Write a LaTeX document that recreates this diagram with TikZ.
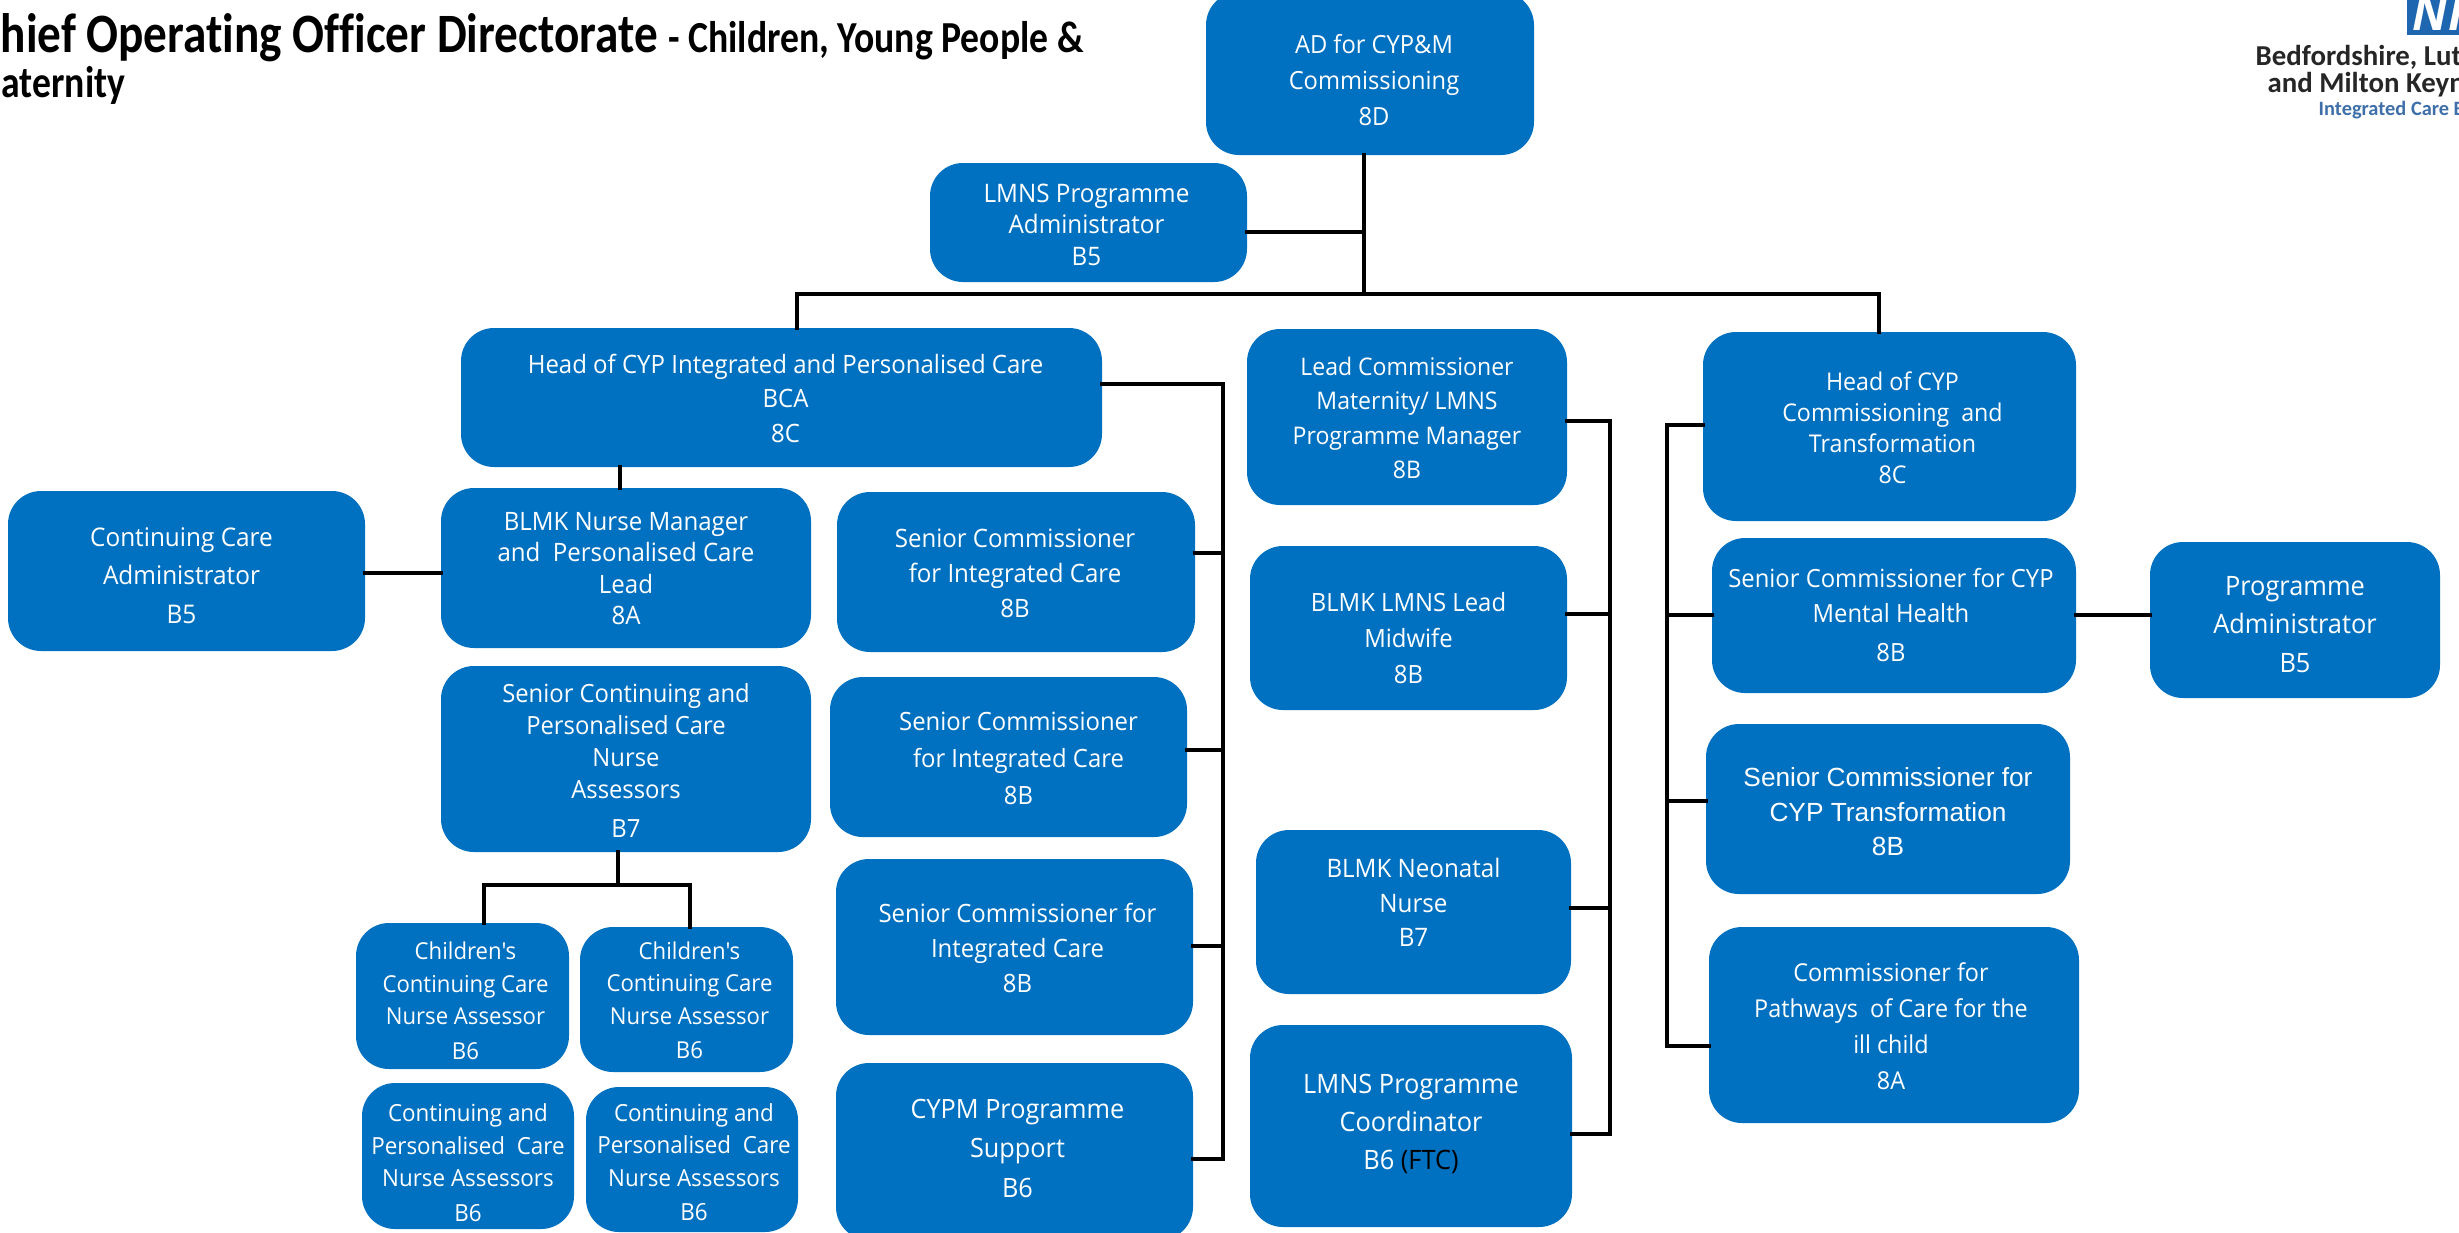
\documentclass[tikz,border=0pt]{standalone}
\usepackage{fontspec}
\defaultfontfeatures[\rmfamily]{}
\setmainfont[FakeStretch=0.95]{Open Sans}
\newfontfamily\carl[Ligatures=NoCommon]{Carlito}
\newfontfamily\carlt[Ligatures=NoCommon,FakeStretch=0.85]{Carlito}
\newfontfamily\arialf{Liberation Sans}
\definecolor{nhsblue}{HTML}{0070C0}
\definecolor{logoblue}{HTML}{1F66B0}
\definecolor{logotext}{HTML}{3F6FA8}
\newdimen\pxu \pxu=0.2845pt
\tikzset{
  box/.style={fill=nhsblue,draw=none,rounded corners=0.33cm,text=white,align=center,inner sep=0pt,outer sep=0pt},
  fs/.style 2 args={font=\fontsize{#1}{#2}\selectfont},
  fa/.style 2 args={font=\arialf\fontsize{#1}{#2}\selectfont},
  link/.style={draw=black,line width=1pt,line cap=rect},
  titleb/.style={anchor=base west,font=\carlt\bfseries\fontsize{15.8}{18}\selectfont,inner sep=0pt},
  titles/.style={anchor=base west,font=\carlt\bfseries\fontsize{12.6}{14}\selectfont,inner sep=0pt},
  logot/.style={anchor=base west,font=\carl\bfseries\fontsize{8.2}{10}\selectfont,inner sep=0pt,text=black!85},
}
\newcommand{\bx}[7][]{\node[box,#7,minimum width={(#4-#2)*0.01cm},minimum height={(#5-#3)*0.01cm},#1] (#6) at ({(#2+#4)/2},{(#3+#5)/2})}
\newcommand{\sh}[3]{\smash{\makebox[0pt]{\hspace*{\dimexpr #1\pxu*2\relax}\raisebox{\dimexpr -#2\pxu-2.65pt\relax}{\begin{tabular}{@{}c@{}}#3\end{tabular}}}}}
\begin{document}
\begin{tikzpicture}[x=0.01cm,y=-0.01cm]
\useasboundingbox (0,0) rectangle (2459,1232);
\clip (0,0) rectangle (2459,1232);
% title
\node[titleb] (t1) at (-25,52) {Chief Operating Officer Directorate \fontsize{12.6}{14}\selectfont - Children, Young People \&};
\node[titles] (t2) at (-32,97) {Maternity};
% logo
\fill[logoblue] (2407,-2) rectangle (2470,35);
\node[anchor=base west,font=\fontsize{14}{14}\selectfont\bfseries\itshape,text=white,inner sep=0pt] (nhs) at (2412,30) {NHS};
\node[logot] (l1) at (2255,65) {Bedfordshire, Luton};
\node[logot] (l2) at (2267,92) {and Milton Keynes};
\node[logot,text=logotext,font=\carl\bfseries\fontsize{5.8}{7}\selectfont] (l3) at (2318,115) {Integrated Care Board};
% boxes
\bx{1206}{-8}{1534}{155}{ad}{fs={7.1}{10.2}} {\sh{4}{6}{AD for CYP\&M\\Commissioning\\8D}};
\bx{930}{163}{1247}{282}{adm}{fs={7.25}{8.9}} {\sh{-2}{2}{LMNS Programme\\Administrator\\B5}};
\bx{461}{328}{1102}{467}{head}{fs={7.18}{9.8}} {\sh{4}{0}{Head of CYP Integrated and Personalised Care\\BCA\\8C}};
\bx{1247}{329}{1567}{505}{lead}{fs={6.9}{9.8}} {\sh{0}{0}{Lead Commissioner\\Maternity/ LMNS\\Programme Manager\\8B}};
\bx{1703}{332}{2076}{521}{hcc}{fs={6.95}{8.8}} {\sh{3}{1}{Head of CYP\\Commissioning\ \ and\\Transformation\\8C}};
\bx{8}{491}{365}{651}{cca}{fs={7.3}{10.9}} {\sh{-5}{3}{Continuing Care\\Administrator\\B5}};
\bx{441}{488}{811}{648}{nurse}{fs={7.2}{9}} {\sh{0}{0}{BLMK Nurse Manager\\and\ \ Personalised Care\\Lead\\8A}};
\bx{837}{492}{1195}{652}{sca}{fs={7.2}{10}} {\sh{-1}{0}{Senior Commissioner\\for Integrated Care\\8B}};
\bx{441}{666}{811}{852}{scn}{fs={7.13}{9.1}} {\sh{0}{1}{Senior Continuing and\\Personalised Care\\Nurse\\Assessors\\[2pt]B7}};
\bx{830}{677}{1187}{837}{scb}{fs={7.15}{10.5}} {\sh{10}{0}{Senior Commissioner\\for Integrated Care\\8B}};
\bx{836}{859}{1193}{1035}{scc}{fs={7.17}{10}} {\sh{3}{0}{Senior Commissioner for\\Integrated Care\\8B}};
\bx{836}{1063}{1193}{1240}{cypm}{fs={7.56}{11.3}} {\sh{3}{-4}{CYPM Programme\\Support\\B6}};
\bx{1250}{546}{1567}{710}{lml}{fs={7.15}{10.2}} {\sh{0}{9}{BLMK LMNS Lead\\Midwife\\8B}};
\bx{1256}{830}{1571}{994}{neo}{fs={7.24}{9.8}} {\sh{0}{-10}{BLMK Neonatal\\Nurse\\B7}};
\bx{1250}{1025}{1572}{1227}{coord}{fs={7.6}{10.8}} {\sh{0}{-4}{LMNS Programme\\Coordinator\\B6 \textcolor{black}{(FTC)}}};
\bx{1712}{538}{2076}{693}{mh}{fs={7.13}{10}} {\sh{-3}{-1}{Senior Commissioner for CYP\\Mental Health\\[1pt]8B}};
\bx{2150}{542}{2440}{698}{pa}{fs={7.6}{10.9}} {\sh{0}{4}{Programme\\Administrator\\B5}};
\bx{1706}{724}{2070}{894}{trans}{fa={7.47}{9.8}} {\sh{0}{2}{Senior Commissioner for\\CYP Transformation\\8B}};
\bx{1709}{927}{2079}{1123}{path}{fs={7.0}{10.2}} {\sh{-3}{0}{Commissioner for\\Pathways\ \ of Care for the\\ill child\\8A}};
\bx{356}{923}{569}{1069}{ch1}{fs={6.63}{9.2}} {\sh{3}{4}{Children's\\Continuing Care\\Nurse Assessor\\[0.7pt]B6}};
\bx{580}{927}{793}{1072}{ch2}{fs={6.63}{9.2}} {\sh{3}{0}{Children's\\Continuing Care\\Nurse Assessor\\[0.7pt]B6}};
\bx{362}{1083}{574}{1229}{cp1}{fs={6.7}{9.2}} {\sh{0}{6}{Continuing and\\Personalised\ \ Care\\Nurse Assessors\\[0.7pt]B6}};
\bx{586}{1087}{798}{1232}{cp2}{fs={6.7}{9.2}} {\sh{2}{2}{Continuing and\\Personalised\ \ Care\\Nurse Assessors\\[0.7pt]B6}};
% junctions
\coordinate (top) at (1364,294);
\coordinate (tl) at (797,294);
\coordinate (tr) at (1879,294);
\coordinate (abus) at (1223,384);
\coordinate (a1) at (1223,553);
\coordinate (a2) at (1223,750);
\coordinate (a3) at (1223,946);
\coordinate (a4) at (1223,1159);
\coordinate (bbus) at (1610,421);
\coordinate (b1) at (1610,614);
\coordinate (b2) at (1610,908);
\coordinate (b3) at (1610,1134);
\coordinate (cbus) at (1667,425);
\coordinate (c1) at (1667,615);
\coordinate (c2) at (1667,801);
\coordinate (c3) at (1667,1046);
\coordinate (nd) at (618,885);
\coordinate (nl) at (484,885);
\coordinate (nr) at (690,885);
\coordinate (hn) at (620,467);
\coordinate (ccy) at (0,573);
\coordinate (mhy) at (0,615);
\coordinate (admy) at (0,232);
% connectors
\draw[link] (ad.south -| top) -- (top);
\draw[link] (adm.east |- admy) -- (admy -| top);
\draw[link] (head.north -| tl) -- (tl) -- (tr) -- (hcc.north -| tr);
\draw[link] (head.east |- abus) -- (abus) -- (a4);
\draw[link] (sca.east |- a1) -- (a1);
\draw[link] (scb.east |- a2) -- (a2);
\draw[link] (scc.east |- a3) -- (a3);
\draw[link] (cypm.east |- a4) -- (a4);
\draw[link] (lead.east |- bbus) -- (bbus) -- (b3);
\draw[link] (lml.east |- b1) -- (b1);
\draw[link] (neo.east |- b2) -- (b2);
\draw[link] (coord.east |- b3) -- (b3);
\draw[link] (hcc.west |- cbus) -- (cbus) -- (c3) -- (path.west |- c3);
\draw[link] (mh.west |- c1) -- (c1);
\draw[link] (trans.west |- c2) -- (c2);
\draw[link] (hn) -- (nurse.north -| hn);
\draw[link] (cca.east |- ccy) -- (nurse.west |- ccy);
\draw[link] (mh.east |- mhy) -- (pa.west |- mhy);
\draw[link] (scn.south -| nd) -- (nd);
\draw[link] (ch1.north -| nl) -- (nl) -- (nr) -- (ch2.north -| nr);
\end{tikzpicture}
\end{document}
